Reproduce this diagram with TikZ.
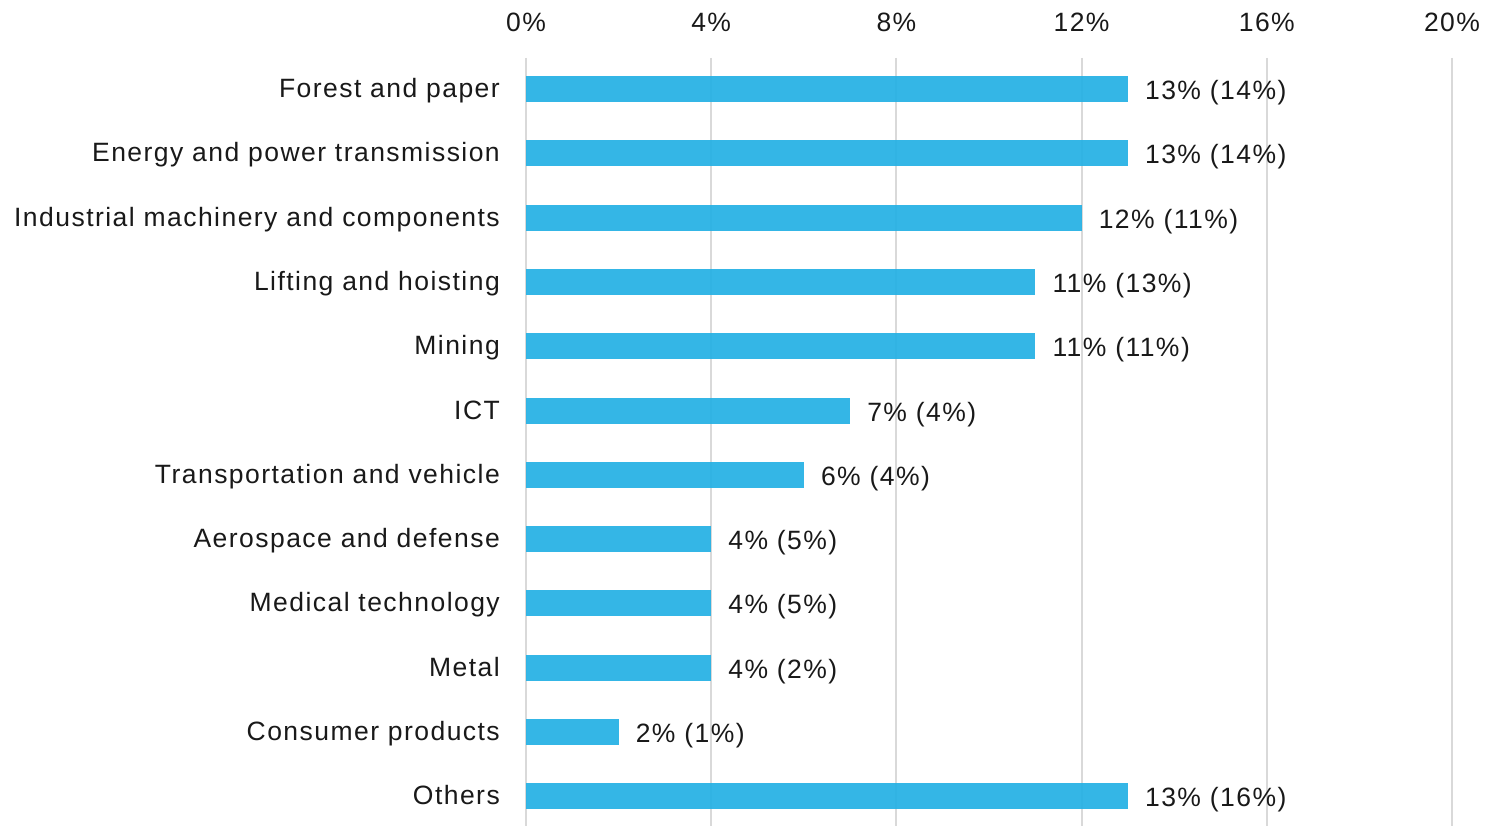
\documentclass[tikz,border=0pt]{standalone}
\usepackage{fontspec}
\setmainfont{Liberation Sans}[LetterSpace=5.5]
\definecolor{barblue}{RGB}{35,176,228}
\definecolor{gridgray}{RGB}{217,217,217}
\begin{document}
\begin{tikzpicture}[x=1pt,y=-1pt,
 lab/.style={font=\fontsize{26.5}{30}\selectfont, inner sep=0pt, text=black!90},
 catlab/.style={lab, anchor=base east},
 vallab/.style={lab, anchor=base west},
 ticklab/.style={lab, anchor=base},
 gridline/.style={draw=gridgray, line width=2pt},
 barbox/.style={fill=barblue, fill opacity=0.92}]
\useasboundingbox (0,0) rectangle (1485,826);
\foreach \k in {0,...,5} {
  \pgfmathsetmacro\gx{526+4*\k*46.3}
  \coordinate (gt\k) at (\gx,58);
  \coordinate (gb\k) at (\gx,826);
  \draw[gridline] (gt\k) -- (gb\k);
  \pgfmathtruncatemacro\pc{4*\k}
  \node[ticklab] (tick\k) at (\gx,32) {\pc\%};
}
\foreach \i/\lab/\v/\txt in {
  0/Forest and paper/13/13\% (14\%),
  1/Energy and power transmission/13/13\% (14\%),
  2/Industrial machinery and components/12/12\% (11\%),
  3/Lifting and hoisting/11/11\% (13\%),
  4/Mining/11/11\% (11\%),
  5/ICT/7/7\% (4\%),
  6/Transportation and vehicle/6/6\% (4\%),
  7/Aerospace and defense/4/4\% (5\%),
  8/Medical technology/4/4\% (5\%),
  9/Metal/4/4\% (2\%),
  10/Consumer products/2/2\% (1\%),
  11/Others/13/13\% (16\%)} {
  \pgfmathsetmacro\yc{89+64.3*\i}
  \pgfmathsetmacro\xe{526+\v*46.3}
  \coordinate (bs\i) at (526,\yc-13);
  \coordinate (be\i) at (\xe,\yc+13);
  \fill[barbox] (bs\i) rectangle (be\i);
  \node[catlab] (cat\i) at (500,\yc+8.5) {\lab};
  \node[vallab] (val\i) at (\xe+17,\yc+10.5) {\txt};
}
\end{tikzpicture}
\end{document}
